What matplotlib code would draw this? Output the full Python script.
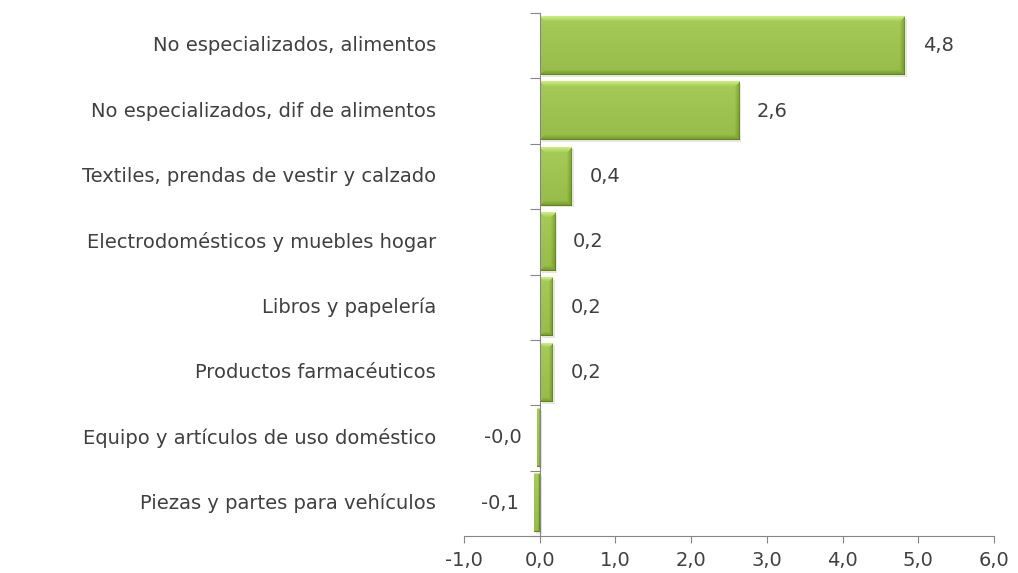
import numpy as np
import matplotlib
matplotlib.use("Agg")
import matplotlib.pyplot as plt
from matplotlib.patches import Rectangle

categorias = ["No especializados, alimentos",
              "No especializados, dif de alimentos",
              "Textiles, prendas de vestir y calzado",
              "Electrodomésticos y muebles hogar",
              "Libros y papelería",
              "Productos farmacéuticos",
              "Equipo y artículos de uso doméstico",
              "Piezas y partes para vehículos"]
valores = [4.82, 2.63, 0.42, 0.20, 0.17, 0.17, -0.04, -0.07]
etiquetas = ["4,8", "2,6", "0,4", "0,2", "0,2", "0,2", "-0,0", "-0,1"]
xticks = [-1, 0, 1, 2, 3, 4, 5, 6]
xtick_labels = ["-1,0", "0,0", "1,0", "2,0", "3,0", "4,0", "5,0", "6,0"]

plt.rcParams['font.family'] = ['DejaVu Sans']
txt = '#404040'
gris = '#868686'
fs = 14

fig = plt.figure(figsize=(10.18, 5.73), dpi=100)
ax = fig.add_axes([464/1018, 1 - 536/573, 530/1018, 523/573])
ax.set_xlim(-1, 6)
ax.set_ylim(len(categorias) - 0.5, -0.5)

# bevel fill per bar, computed in pixel space
base = np.array([0.62, 0.765, 0.32])
alto = 0.89
sx = ax.transData.transform((1, 0))[0] - ax.transData.transform((0, 0))[0]
for i, v in enumerate(valores):
    x0, x1 = min(0, v), max(0, v)
    p0 = ax.transData.transform((x0, i - alto / 2))
    p1 = ax.transData.transform((x1, i + alto / 2))
    w = max(int(round(abs(p1[0] - p0[0]))), 2)
    h = max(int(round(abs(p1[1] - p0[1]))), 2)
    r, c = np.mgrid[0:h, 0:w]
    b = min(5, max(1, w // 3))
    img = np.tile(base, (h, w, 1)).astype(float)
    img += ((0.5 - r / h) * 0.06)[..., None]
    dt, db, dl, dr = r, h - 1 - r, c, w - 1 - c
    dmin = np.minimum(np.minimum(dt, db), np.minimum(dl, dr))
    edge = dmin < b
    fade = 1 - dmin / b
    shade = np.zeros((h, w))
    top = edge & (dt == dmin)
    shade[top] = 0.14 * fade[top]
    bot = edge & (db == dmin)
    shade[bot] = -0.14 * fade[bot]
    rgt = edge & (dr == dmin) & (db != dmin) & (dt != dmin)
    shade[rgt] = -0.14 * fade[rgt]
    img += shade[..., None]
    img[-1, :, :] -= 0.06
    img[:, -1, :] -= 0.06
    img = np.clip(img, 0, 1)
    # soft shadow
    ax.add_patch(Rectangle((x0 + 2 / sx, i - alto / 2 + 0.03), x1 - x0, alto,
                           facecolor='#000000', alpha=0.10, linewidth=0, zorder=1.5))
    ax.imshow(img, extent=(x0, x1, i + alto / 2, i - alto / 2), origin='upper',
              aspect='auto', interpolation='bilinear', zorder=2)

    if v >= 0:
        ax.annotate(etiquetas[i], (v, i), xytext=(13, 0), textcoords='offset points',
                    ha='left', va='center', fontsize=fs, color=txt)
    else:
        ax.annotate(etiquetas[i], (v, i), xytext=(-11, 0), textcoords='offset points',
                    ha='right', va='center', fontsize=fs, color=txt)

ax.set_xlim(-1, 6)
ax.set_ylim(len(categorias) - 0.5, -0.5)

# category labels at the left of the plot area
for i, cat in enumerate(categorias):
    ax.text(-0.053, i, cat, transform=ax.get_yaxis_transform(), ha='right',
            va='center', fontsize=fs, color=txt)

ax.set_xticks(xticks)
ax.set_xticklabels(xtick_labels, fontsize=fs, color=txt)
ax.set_yticks(np.arange(-0.5, len(categorias), 1))
ax.set_yticklabels([])
ax.tick_params(axis='x', length=5, color=gris, pad=6)
ax.tick_params(axis='y', length=7, color=gris, direction='out')

ax.spines['left'].set_position(('data', 0))
ax.spines['left'].set_color(gris)
ax.spines['bottom'].set_color(gris)
ax.spines['top'].set_visible(False)
ax.spines['right'].set_visible(False)

fig.savefig('out.png', dpi=100)
